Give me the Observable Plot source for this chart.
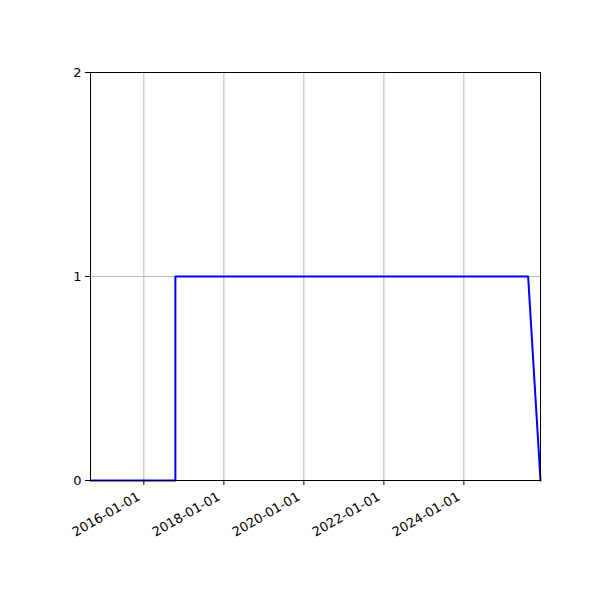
<!DOCTYPE html>
<html>
<head>
<meta charset="utf-8">
<script src="https://cdn.jsdelivr.net/npm/d3@7"></script>
<script src="https://cdn.jsdelivr.net/npm/@observablehq/plot@0.6"></script>
<style>
  html, body { margin: 0; padding: 0; background: #fff; }
  svg { font-family: "DejaVu Sans", sans-serif; }
</style>
</head>
<body>
<div id="chart"></div>
<script>
const dates = ["2014-09-01", "2016-10-15", "2016-10-15", "2025-08-10", "2025-12-01"];
const values = [0, 0, 1, 1, 0];
const xTickDates = ["2016-01-01", "2018-01-01", "2020-01-01", "2022-01-01", "2024-01-01"];
const yTicks = [0, 1, 2];

const data = dates.map((d, i) => ({date: new Date(d + "T00:00:00Z"), value: values[i]}));
const xTicks = xTickDates.map(d => new Date(d + "T00:00:00Z"));
const fmt = d3.utcFormat("%Y-%m-%d");

const chart = Plot.plot({
  width: 600,
  height: 600,
  marginLeft: 90,
  marginRight: 60,
  marginTop: 72,
  marginBottom: 120,
  style: {fontFamily: "DejaVu Sans, sans-serif", fontSize: "13px", background: "#fff"},
  x: {type: "utc", domain: [data[0].date, data[data.length - 1].date]},
  y: {domain: [0, 2]},
  marks: [
    Plot.gridX(xTicks, {stroke: "#b0b0b0", strokeOpacity: 1, strokeWidth: 0.9}),
    Plot.gridY(yTicks, {stroke: "#b0b0b0", strokeOpacity: 1, strokeWidth: 0.9}),
    Plot.line(data, {x: "date", y: "value", stroke: "#0000ff", strokeWidth: 2}),
    Plot.frame({stroke: "#000", strokeWidth: 1}),
    Plot.axisX(xTicks, {tickFormat: () => "", tickSize: 5, label: null, stroke: "#000"}),
    Plot.axisX(xTicks, {tickFormat: fmt, tickRotate: -30, textAnchor: "end", tickSize: 0, tickPadding: 9, fontSize: 13, label: null, fill: "#000", dx: -5, dy: 6}),
    Plot.axisY(yTicks, {tickFormat: d => String(d), tickSize: 5, tickPadding: 4, fontSize: 13, label: null, fill: "#000"})
  ]
});
document.getElementById("chart").appendChild(chart);
</script>
</body>
</html>
